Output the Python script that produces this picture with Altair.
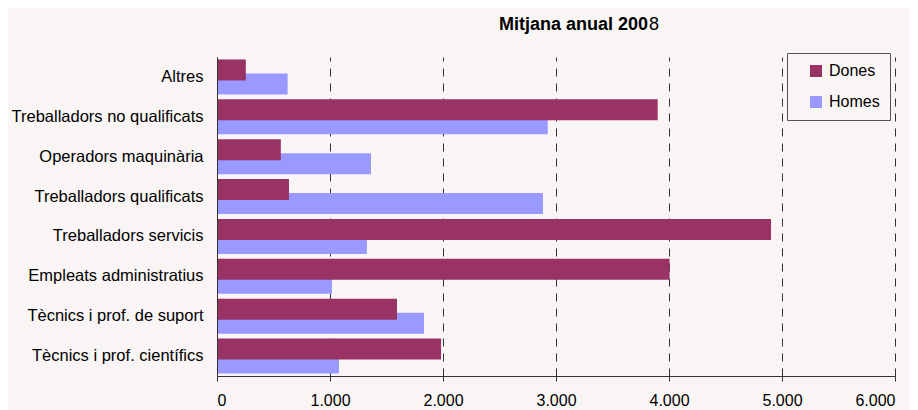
import altair as alt
import pandas as pd

categories = [
    "Altres",
    "Treballadors no qualificats",
    "Operadors maquinària",
    "Treballadors qualificats",
    "Treballadors servicis",
    "Empleats administratius",
    "Tècnics i prof. de suport",
    "Tècnics i prof. científics",
]
dones = [255, 3900, 565, 637, 4903, 4005, 1593, 1983]
homes = [625, 2927, 1363, 2885, 1327, 1018, 1832, 1079]
series = ["Dones", "Homes"]
colors = ["#993366", "#9999FF"]
x_ticks = [0, 1000, 2000, 3000, 4000, 5000, 6000]
title_main = "Mitjana anual 200"
title_tail = "8"

FONT = "Liberation Sans, Arial, sans-serif"
BG = "#FAF5F5"

rows = []
for c, d, h in zip(categories, dones, homes):
    rows.append({"cat": c, "sexe": "Dones", "valor": d})
    rows.append({"cat": c, "sexe": "Homes", "valor": h})
df = pd.DataFrame(rows)

x_enc = alt.X(
    "valor:Q",
    scale=alt.Scale(domain=[0, 6000], nice=False),
    axis=alt.Axis(
        values=x_ticks,
        title=None,
        grid=True,
        gridDash=[8, 7],
        gridColor="#333333",
        gridWidth=1,
        domainColor="#333333",
        tickColor="#333333",
        tickSize=5,
        labelPadding=11,
        labelFont=FONT,
        labelFontSize=16,
        labelColor="#000000",
        labelExpr="replace(format(datum.value, ','), ',', '.')",
    ),
)
y_enc = alt.Y(
    "cat:N",
    sort=categories,
    scale=alt.Scale(paddingInner=0, paddingOuter=0),
    axis=alt.Axis(
        title=None,
        ticks=False,
        grid=False,
        domainColor="#333333",
        labelPadding=14,
        labelFont=FONT,
        labelFontSize=16.5,
        labelColor="#000000",
        labelLimit=300,
        zindex=1,
    ),
)
color_enc = alt.Color(
    "sexe:N",
    scale=alt.Scale(domain=series, range=colors),
    legend=alt.Legend(
        title=None,
        orient="none",
        legendX=570,
        legendY=-4,
        strokeColor="#555555",
        fillColor=BG,
        padding=10,
        symbolOffset=11,
        labelOffset=5,
        symbolType="square",
        symbolSize=144,
        symbolStrokeWidth=0,
        labelFont=FONT,
        labelFontSize=16,
        labelColor="#000000",
        rowPadding=15,
    ),
)

base = alt.Chart(df)
homes_bars = base.transform_filter(alt.datum.sexe == "Homes").mark_bar(
    height=21, yOffset=7
).encode(x=x_enc, y=y_enc, color=color_enc)
dones_bars = base.transform_filter(alt.datum.sexe == "Dones").mark_bar(
    height=21, yOffset=-7
).encode(x=x_enc, y=y_enc, color=color_enc)

t1 = alt.Chart(alt.Data(values=[{"t": title_main}])).mark_text(
    align="right", baseline="alphabetic", font=FONT, fontSize=18, fontWeight="bold", color="#000000"
).encode(x=alt.value(431), y=alt.value(-27), text="t:N")
t2 = alt.Chart(alt.Data(values=[{"t": title_tail}])).mark_text(
    align="left", baseline="alphabetic", font=FONT, fontSize=18, fontWeight="normal", color="#000000"
).encode(x=alt.value(432), y=alt.value(-27), text="t:N")

chart = (
    alt.layer(homes_bars, dones_bars, t1, t2)
    .properties(
        width=678,
        height=319,
        padding={"left": 209, "top": 49, "right": 15, "bottom": 37},
        autosize=alt.AutoSizeParams(type="none"),
        background=BG,
    )
    .configure_view(stroke=None)
)

chart.save("out.html", embed_options={"renderer": "svg", "actions": False})
